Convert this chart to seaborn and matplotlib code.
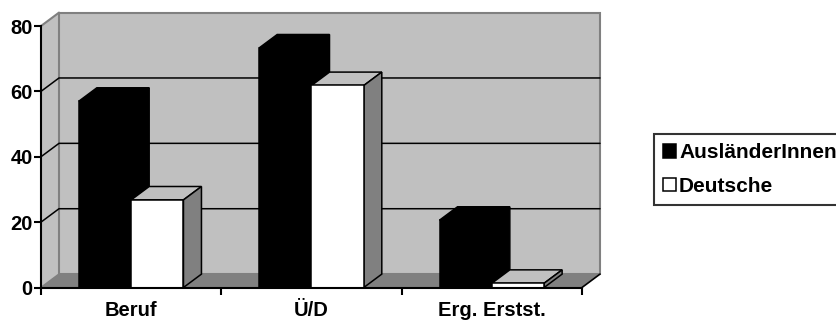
import matplotlib
matplotlib.use("Agg")
import matplotlib.pyplot as plt
from matplotlib.patches import Polygon, Patch
import seaborn as sns
import pandas as pd

categories = ["Beruf", "Ü/D", "Erg. Erstst."]
series = ["AusländerInnen", "Deutsche"]
auslaender = [57.0, 73.3, 20.6]
deutsche = [26.8, 61.8, 1.3]
yticks = [0, 20, 40, 60, 80]

df = pd.DataFrame({
    "Kategorie": categories * 2,
    "Gruppe": [series[0]] * 3 + [series[1]] * 3,
    "Wert": auslaender + deutsche,
})

sns.set_theme(style="white")
plt.rcParams["font.family"] = ["Liberation Sans", "DejaVu Sans"]
plt.rcParams["font.weight"] = "bold"
plt.rcParams["text.color"] = "black"
plt.rcParams["xtick.labelcolor"] = "black"
plt.rcParams["ytick.labelcolor"] = "black"

WALL = "#c0c0c0"
FLOOR = "#808080"
EDGE_GRAY = "#808080"

fig = plt.figure(figsize=(8.37, 3.2), dpi=100)
ax = fig.add_axes([41 / 837, (320 - 287.5) / 320, 541 / 837, 261.5 / 320])
ax.set_facecolor("none")

sns.barplot(data=df, x="Kategorie", y="Wert", hue="Gruppe", order=categories,
            hue_order=series, palette={series[0]: "black", series[1]: "white"},
            width=0.58, edgecolor="black", linewidth=1.1, saturation=1,
            legend=False, ax=ax)

ax.set_xlim(-0.5, len(categories) - 0.5)
ax.set_ylim(0, 80)

# depth offset of the 3-D box (pixels -> data units)
x0, x1 = ax.get_xlim()
bbox = ax.get_window_extent()
dx = 18 * (x1 - x0) / bbox.width
dy = 13.4 * 80 / bbox.height

xl, xr = x0, x1
# left wall, back wall and floor
ax.add_patch(Polygon([(xl, 0), (xl + dx, dy), (xl + dx, 80 + dy), (xl, 80)],
                     closed=True, facecolor=WALL, edgecolor="none", zorder=0, clip_on=False))
ax.add_patch(Polygon([(xl + dx, dy), (xr + dx, dy), (xr + dx, 80 + dy), (xl + dx, 80 + dy)],
                     closed=True, facecolor=WALL, edgecolor=EDGE_GRAY, linewidth=1.5,
                     zorder=0, clip_on=False))
ax.add_patch(Polygon([(xl, 0), (xr, 0), (xr + dx, dy), (xl + dx, dy)],
                     closed=True, facecolor=FLOOR, edgecolor="none", zorder=0.5, clip_on=False))
ax.plot([xl, xl + dx], [80, 80 + dy], color=EDGE_GRAY, lw=1.5, zorder=0.6, clip_on=False)
ax.plot([xl, xl + dx], [0, dy], color=EDGE_GRAY, lw=1.2, zorder=0.6, clip_on=False)
ax.plot([xr, xr + dx], [0, dy], color="black", lw=1.2, zorder=0.6, clip_on=False)

# gridlines on the walls
for v in yticks[1:-1]:
    ax.plot([xl, xl + dx, xr + dx], [v, v + dy, v + dy], color="black", lw=1.1,
            zorder=0.8, clip_on=False, solid_joinstyle="miter")

# 3-D faces for every bar
for i, container in enumerate(ax.containers):
    z = 3 + 2 * i
    dark = i == 0
    top_c = "black" if dark else WALL
    side_c = "black" if dark else FLOOR
    for bar in container:
        bx, bw, bh = bar.get_x(), bar.get_width(), bar.get_height()
        bar.set_zorder(z + 0.5)
        ax.add_patch(Polygon([(bx, bh), (bx + bw, bh), (bx + bw + dx, bh + dy), (bx + dx, bh + dy)],
                             closed=True, facecolor=top_c, edgecolor="black", linewidth=1.1,
                             zorder=z, clip_on=False))
        ax.add_patch(Polygon([(bx + bw, 0), (bx + bw + dx, dy), (bx + bw + dx, bh + dy), (bx + bw, bh)],
                             closed=True, facecolor=side_c, edgecolor="black", linewidth=1.1,
                             zorder=z, clip_on=False))

for s in ["top", "right"]:
    ax.spines[s].set_visible(False)
for s in ["left", "bottom"]:
    ax.spines[s].set_color("black")
    ax.spines[s].set_linewidth(1.5)
    ax.spines[s].set_zorder(10)

ax.set_yticks(yticks)
ax.set_yticklabels([str(v) for v in yticks])
ax.set_xticks(range(len(categories)))
ax.set_xticklabels(categories)
ax.set_xticks([-0.5, 0.5, 1.5, 2.5], minor=True)
ax.tick_params(axis="y", which="major", direction="out", length=5, width=1.5,
               color="black", labelcolor="black", labelsize=14.5, pad=1, left=True)
ax.tick_params(axis="x", which="major", length=0, labelsize=14.5, labelcolor="black", pad=10)
ax.tick_params(axis="x", which="minor", direction="out", length=5, width=1.5,
               color="black", bottom=True)
for lab in ax.get_xticklabels() + ax.get_yticklabels():
    lab.set_fontweight("bold")
    lab.set_color("black")
ax.set_xlabel("")
ax.set_ylabel("")

handles = [Patch(facecolor="black", edgecolor="black", linewidth=1.1, label=series[0]),
           Patch(facecolor="white", edgecolor="black", linewidth=1.1, label=series[1])]
leg = fig.legend(handles=handles, loc="upper left", bbox_to_anchor=(654 / 837, 1 - 134 / 320),
                 borderaxespad=0, frameon=True, fancybox=False, shadow=False,
                 handlelength=0.6, handleheight=0.6, handletextpad=0.15,
                 borderpad=0.45, labelspacing=0.7,
                 prop={"family": "Liberation Sans", "weight": "bold", "size": 15})
leg.get_frame().set_edgecolor("black")
leg.get_frame().set_linewidth(1.5)
for t in leg.get_texts():
    t.set_color("black")

fig.savefig("out.png", dpi=100)
